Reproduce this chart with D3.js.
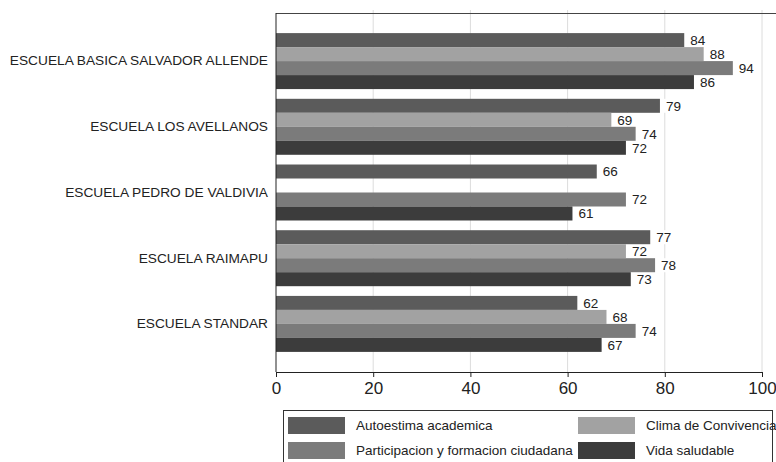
<!DOCTYPE html>
<html>
<head>
<meta charset="utf-8">
<script src="https://cdn.jsdelivr.net/npm/d3@7"></script>
<style>
  html, body { margin: 0; padding: 0; background: #fff; }
  svg { display: block; font-family: "Liberation Sans", Arial, sans-serif; }
</style>
</head>
<body>
<svg id="chart" width="776" height="462"></svg>
<script>
// Schools (rows), indicator series and their scores
const schools = [
  "ESCUELA BASICA SALVADOR ALLENDE",
  "ESCUELA LOS AVELLANOS",
  "ESCUELA PEDRO DE VALDIVIA",
  "ESCUELA RAIMAPU",
  "ESCUELA STANDAR"
];
const seriesNames = [
  "Autoestima academica",
  "Clima de Convivencia",
  "Participacion y formacion ciudadana",
  "Vida saludable"
];
const autoestima    = [84, 79, 66, 77, 62];
const clima         = [88, 69, null, 72, 68];
const participacion = [94, 74, 72, 78, 74];
const vidaSaludable = [86, 72, 61, 73, 67];
const xTicks = [0, 20, 40, 60, 80, 100];

const seriesValues = [autoestima, clima, participacion, vidaSaludable];
const seriesColors = ["#5b5b5b", "#a2a2a2", "#7b7b7b", "#3c3c3c"];

const svg = d3.select("#chart");
const plotLeft = 276, plotRight = 762, plotTop = 13, plotBottom = 372;

const x = d3.scaleLinear().domain([0, 100]).range([plotLeft, plotRight]);
const y = d3.scaleBand().domain(schools).range([plotTop, plotBottom])
  .paddingInner(0.148).paddingOuter(0.306);
const ySub = d3.scaleBand().domain(d3.range(seriesNames.length)).range([0, y.bandwidth()]);

// vertical gridlines
svg.append("g").selectAll("line").data(xTicks.slice(1)).join("line")
  .attr("x1", d => x(d)).attr("x2", d => x(d))
  .attr("y1", plotTop - 3).attr("y2", plotBottom)
  .attr("stroke", "#dcdcdc").attr("stroke-width", 1);

// top frame line
svg.append("line")
  .attr("x1", plotLeft).attr("x2", 776).attr("y1", plotTop + 0.5).attr("y2", plotTop + 0.5)
  .attr("stroke", "#444").attr("stroke-width", 1);

// bars
const rows = [];
schools.forEach((s, i) => {
  seriesValues.forEach((vals, k) => {
    if (vals[i] != null) rows.push({ school: s, k, v: vals[i] });
  });
});

// value label backing sits within its own bar row, drawn before the bars
const lab = svg.append("g").selectAll("g").data(rows).join("g")
  .attr("transform", d => `translate(${x(d.v)},${y(d.school) + ySub(d.k)})`);
lab.append("rect")
  .attr("x", 2).attr("y", 0).attr("width", 24).attr("height", ySub.bandwidth())
  .attr("fill", "#fff");

svg.append("g").selectAll("rect").data(rows).join("rect")
  .attr("x", x(0))
  .attr("y", d => y(d.school) + ySub(d.k))
  .attr("width", d => x(d.v) - x(0))
  .attr("height", ySub.bandwidth())
  .attr("fill", d => seriesColors[d.k]);

svg.append("g").selectAll("text").data(rows).join("text")
  .attr("x", d => x(d.v) + 6)
  .attr("y", d => y(d.school) + ySub(d.k) + ySub.bandwidth() / 2)
  .attr("dy", "0.36em")
  .attr("font-size", 13.5).attr("fill", "#222")
  .text(d => d.v);

// y axis (category labels)
const yAxis = svg.append("g")
  .attr("transform", `translate(${plotLeft},0)`)
  .call(d3.axisLeft(y).tickSize(0).tickPadding(8));
yAxis.select(".domain").attr("stroke", "#222").attr("d", `M0,${plotTop}V${plotBottom}`);
yAxis.selectAll("text").attr("font-size", 13.7).attr("fill", "#222")
  .attr("font-family", "Liberation Sans, Arial, sans-serif");

// x axis
const xAxis = svg.append("g")
  .attr("transform", `translate(0,${plotBottom})`)
  .call(d3.axisBottom(x).tickValues(xTicks).tickSize(5).tickPadding(5).tickSizeOuter(0));
xAxis.select(".domain").attr("stroke", "#222");
xAxis.selectAll(".tick line").attr("stroke", "#222");
xAxis.selectAll("text").attr("font-size", 17).attr("fill", "#222")
  .attr("font-family", "Liberation Sans, Arial, sans-serif");

// legend
const legend = svg.append("g");
legend.append("rect")
  .attr("x", 283.5).attr("y", 410.5).attr("width", 489).attr("height", 70)
  .attr("fill", "#fff").attr("stroke", "#333").attr("stroke-width", 1);
const legendPos = [
  { k: 0, x: 288, y: 417 },
  { k: 1, x: 578, y: 417 },
  { k: 2, x: 288, y: 442 },
  { k: 3, x: 578, y: 442 }
];
const li = legend.selectAll("g.item").data(legendPos).join("g")
  .attr("class", "item")
  .attr("transform", d => `translate(${d.x},${d.y})`);
li.append("rect").attr("width", 57).attr("height", 17)
  .attr("fill", d => seriesColors[d.k]);
li.append("text").attr("x", 68).attr("y", 8.5).attr("dy", "0.35em")
  .attr("font-size", 13.5).attr("fill", "#222")
  .text(d => seriesNames[d.k]);
</script>
</body>
</html>
